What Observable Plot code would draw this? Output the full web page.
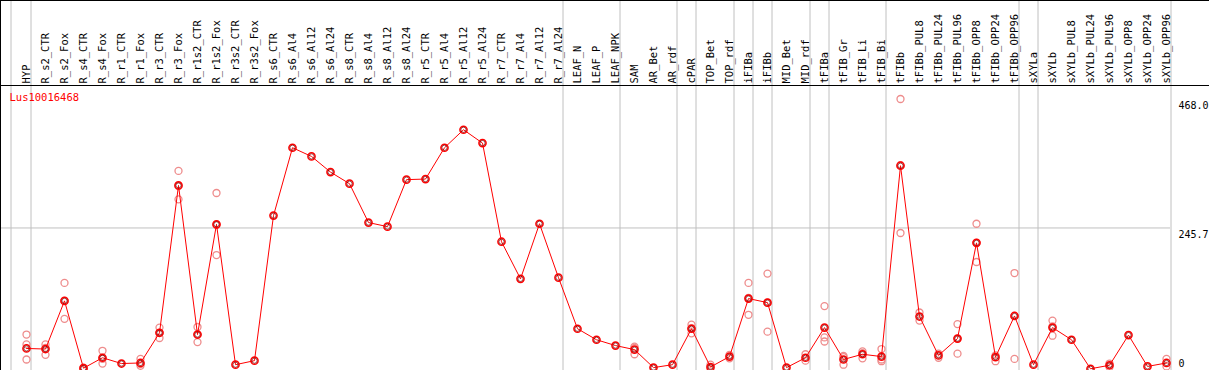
<!DOCTYPE html>
<html><head><meta charset="utf-8">
<script src="https://cdn.jsdelivr.net/npm/d3@7"></script>
<script src="https://cdn.jsdelivr.net/npm/@observablehq/plot@0.6"></script>
<style>
html,body{margin:0;padding:0;background:#fff;}
#chart svg{display:block;}
</style></head><body><div id="chart"></div>
<script>
const geneName = "Lus10016468";
const categories = ["HYP","R_s2_CTR","R_s2_Fox","R_s4_CTR","R_s4_Fox","R_r1_CTR","R_r1_Fox","R_r3_CTR","R_r3_Fox","R_r1s2_CTR","R_r1s2_Fox","R_r3s2_CTR","R_r3s2_Fox","R_s6_CTR","R_s6_Al4","R_s6_Al12","R_s6_Al24","R_s8_CTR","R_s8_Al4","R_s8_Al12","R_s8_Al24","R_r5_CTR","R_r5_Al4","R_r5_Al12","R_r5_Al24","R_r7_CTR","R_r7_Al4","R_r7_Al12","R_r7_Al24","LEAF_N","LEAF_P","LEAF_NPK","SAM","AR_Bet","AR_rdf","cPAR","TOP_Bet","TOP_rdf","iFIBa","iFIBb","MID_Bet","MID_rdf","tFIBa","tFIB_Gr","tFIB_Li","tFIB_Bi","tFIBb","tFIBb_PUL8","tFIBb_PUL24","tFIBb_PUL96","tFIBb_OPP8","tFIBb_OPP24","tFIBb_OPP96","sXYLa","sXYLb","sXYLb_PUL8","sXYLb_PUL24","sXYLb_PUL96","sXYLb_OPP8","sXYLb_OPP24","sXYLb_OPP96"];
const means = [38,37,120,4,22,12,13,65,319,62,252,10,17,267,384,369,342,322,255,248,329,330,384,415,392,222,158,253,160,72,53,43,36,5,10,72,6,24,124,117,5,22,74,19,28,24,353,93,26,55,220,23,94,10,74,53,3,9,61,7,13];
const replicates = [
  [62,45,19],[45,27,39],[151,89,120],[3,5],[34,12,20],[],[20,8,11],[74,56,65],[344,295,318],[75,49,62],[306,199,251],[],[],
  [],[],[],[],[],[],[],[],[],[],[],[],[],[],[],[],[],[],[],
  [41,28,39],[],[],[79,64,73],[10,3],[27,21],[151,96,125],[167,67,117],[],[28,17],[111,57,50],[23,10,25],[33,21,30],[37,16,19],
  [468,237,354],[100,86],[29,22],[80,29,55],[253,187,220],[26,16],[168,20,94],
  [],[86,60,76],[],[],[12,6],[],[],[20,7]
];
const separatorsAfter = ["HYP","R_r7_Al24","LEAF_NPK","AR_rdf","cPAR","TOP_rdf","iFIBa","iFIBb","MID_rdf","tFIBa","tFIB_Bi","tFIBb_OPP96","sXYLa","sXYLb_OPP96"];
const yTicks = [0, 245.7, 468.0];
const yTickLabels = ["0", "245.7", "468.0"];

const meanRows = categories.map((c, i) => ({cat: c, v: means[i]}));
const repRows = categories.flatMap((c, i) => replicates[i].map(v => ({cat: c, v})));
const tickRows = yTicks.map((t, i) => ({t, label: yTickLabels[i]}));

const chart = Plot.plot({
  width: 1209,
  height: 370,
  marginTop: 0, marginBottom: 0, marginLeft: 0, marginRight: 0,
  style: {fontFamily: "'DejaVu Sans Mono', monospace", fontSize: "10px", background: "#fff", color: "#000"},
  x: {type: "point", domain: categories, range: [26, 1166], padding: 0, axis: null},
  y: {type: "linear", domain: [0, 468], range: [370, 98.5], axis: null},
  marks: [
    Plot.ruleX([categories[0]], {x: d => d, dx: -15.5, stroke: "#c0c0c0", strokeWidth: 1, strokeOpacity: 1}),
    Plot.ruleX(separatorsAfter, {x: d => d, dx: 4.5, stroke: "#c0c0c0", strokeWidth: 1, strokeOpacity: 1}),
    Plot.ruleY([yTicks[1]], {y: d => d, stroke: "#c0c0c0", strokeWidth: 1, strokeOpacity: 1, insetRight: 39, insetTop: 85}),
    Plot.frame({anchor: "top", insetTop: 85, stroke: "#000"}),
    Plot.frame({stroke: "#000"}),
    Plot.text(categories, {x: d => d, text: d => d, frameAnchor: "top", dy: 83, rotate: -90, textAnchor: "start", lineAnchor: "middle", fill: "#000", fontSize: 10.5}),
    Plot.text([geneName], {text: d => d, frameAnchor: "top-left", dx: 9, dy: 97, textAnchor: "start", lineAnchor: "middle", fill: "#ff0000", fontSize: 10.5}),
    Plot.text(tickRows.filter(d => d.t > 0), {y: "t", text: "label", frameAnchor: "right", dx: -31, dy: 3, textAnchor: "start", lineAnchor: "top", fill: "#000", fontSize: 10}),
    Plot.text(tickRows.filter(d => d.t === 0), {y: "t", text: "label", frameAnchor: "right", dx: -31, dy: -4, textAnchor: "start", lineAnchor: "bottom", fill: "#000", fontSize: 10}),
    Plot.dot(repRows, {x: "cat", y: "v", r: 3.5, stroke: "#ee8c8c", strokeWidth: 1.3, fill: "none"}),
    Plot.line(meanRows, {x: "cat", y: "v", stroke: "#ff0000", strokeWidth: 1}),
    Plot.dot(meanRows, {x: "cat", y: "v", r: 3.6, stroke: "#ff0000", strokeWidth: 1.5, fill: "none"}),
    Plot.dot(meanRows, {x: "cat", y: "v", r: 2.6, stroke: "#700000", strokeWidth: 0.7, fill: "none"})
  ]
});
document.getElementById("chart").appendChild(chart);
</script>
</body></html>
